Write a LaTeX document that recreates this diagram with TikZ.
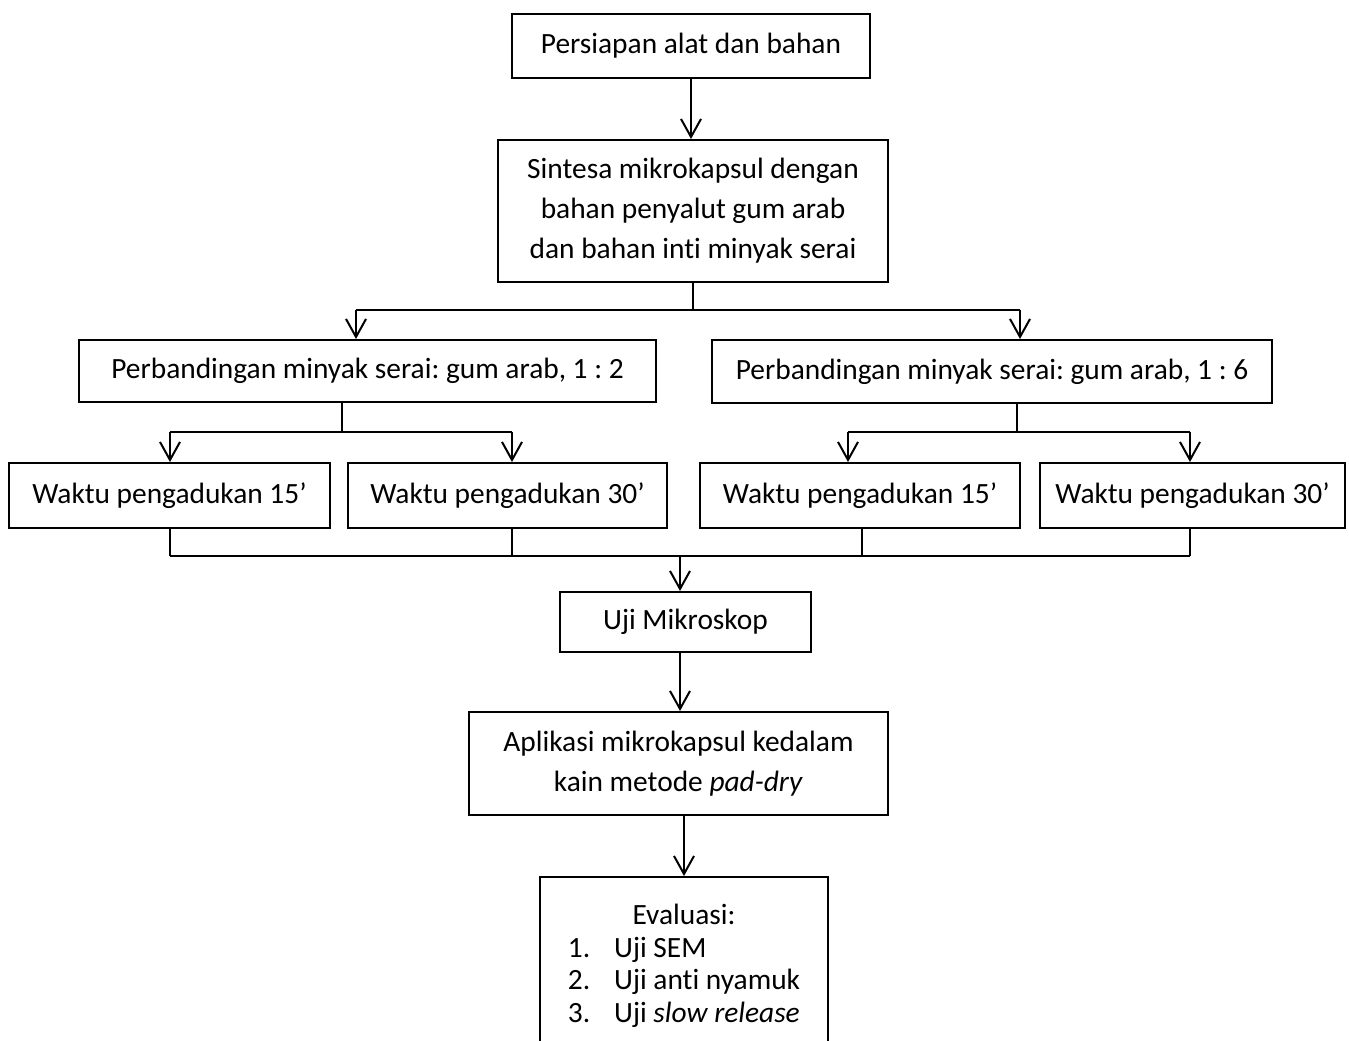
\documentclass[tikz,border=0pt]{standalone}
\usepackage{fontspec}
\setmainfont{Carlito}[Ligatures=NoCommon]
\usetikzlibrary{arrows.meta}
\frenchspacing
\begin{document}
\begin{tikzpicture}[x=0.5pt,y=-0.5pt,line width=1pt,
    box/.style={draw,align=center,inner sep=0pt,font=\fontsize{14.7}{20}\selectfont},
    arr/.style={-{Straight Barb[length=9pt,width=10pt,line width=1pt]}}]
   \useasboundingbox (0,0) rectangle (1349,1040);
   %% boxes
   \node[box,minimum width=179pt,minimum height=32pt] (prep) at (691,46) {Persiapan alat dan bahan};
   \node[box,minimum width=195pt,minimum height=71pt] (sint) at (693,211)
      {Sintesa mikrokapsul dengan\\bahan penyalut gum arab\\dan bahan inti minyak serai};
   \node[box,minimum width=288.5pt,minimum height=31pt] (perbA) at (367.5,371) {Perbandingan minyak serai: gum arab, 1 : 2};
   \node[box,minimum width=280pt,minimum height=31.5pt] (perbB) at (992,371.5) {Perbandingan minyak serai: gum arab, 1 : 6};
   \node[box,minimum width=160.5pt,minimum height=32.5pt] (wA1) at (169.5,495.5) {Waktu pengadukan 15’};
   \node[box,minimum width=159.5pt,minimum height=32.5pt] (wA2) at (507.5,495.5) {Waktu pengadukan 30’};
   \node[box,minimum width=160pt,minimum height=32.5pt] (wB1) at (860,495.5) {Waktu pengadukan 15’};
   \node[box,minimum width=152.5pt,minimum height=32.5pt] (wB2) at (1192.5,495.5) {Waktu pengadukan 30’};
   \node[box,minimum width=125.5pt,minimum height=30pt] (uji) at (685.5,622) {Uji Mikroskop};
   \node[box,minimum width=209.5pt,minimum height=51.5pt] (apl) at (678.5,763.5)
      {Aplikasi mikrokapsul kedalam\\kain metode \textit{pad-dry}};
   \node[box,anchor=north,minimum width=144pt,minimum height=90pt,inner ysep=10.5pt,
      font=\fontsize{14.7}{16.3}\selectfont] (eval) at (684,876)
      {\begin{tabular}{@{}l@{\hspace{12pt}}l@{}}
         \multicolumn{2}{c}{Evaluasi:}\\
         1. & Uji SEM\\
         2. & Uji anti nyamuk\\
         3. & Uji \textit{slow release}
       \end{tabular}};
   %% junctions
   \coordinate (jA) at (356,310);  \coordinate (jB) at (1020,310);
   \coordinate (kA) at (342,432);  \coordinate (kA1) at (170,432); \coordinate (kA2) at (512,432);
   \coordinate (kB) at (1017,432); \coordinate (kB1) at (848,432); \coordinate (kB2) at (1190,432);
   \coordinate (m1) at (170,556);  \coordinate (m2) at (512,556);
   \coordinate (m3) at (862,556);  \coordinate (m4) at (1190,556);
   \coordinate (m) at (680,556);
   %% connectors
   \draw[arr] (prep) -- (prep.south |- sint.north);
   \draw (sint.south) -- (sint.south |- jA);
   \draw (jA) -- (jB);
   \draw[arr] (jA) -- (jA |- perbA.north);
   \draw[arr] (jB) -- (jB |- perbB.north);
   \draw (kA |- perbA.south) -- (kA);
   \draw (kA1) -- (kA2);
   \draw[arr] (kA1) -- (kA1 |- wA1.north);
   \draw[arr] (kA2) -- (kA2 |- wA2.north);
   \draw (kB |- perbB.south) -- (kB);
   \draw (kB1) -- (kB2);
   \draw[arr] (kB1) -- (kB1 |- wB1.north);
   \draw[arr] (kB2) -- (kB2 |- wB2.north);
   \draw (m1 |- wA1.south) -- (m1);
   \draw (m2 |- wA2.south) -- (m2);
   \draw (m3 |- wB1.south) -- (m3);
   \draw (m4 |- wB2.south) -- (m4);
   \draw (m1) -- (m4);
   \draw[arr] (m) -- (m |- uji.north);
   \draw[arr] (m |- uji.south) -- (m |- apl.north);
   \draw[arr] (eval.north |- apl.south) -- (eval.north);
\end{tikzpicture}
\end{document}
